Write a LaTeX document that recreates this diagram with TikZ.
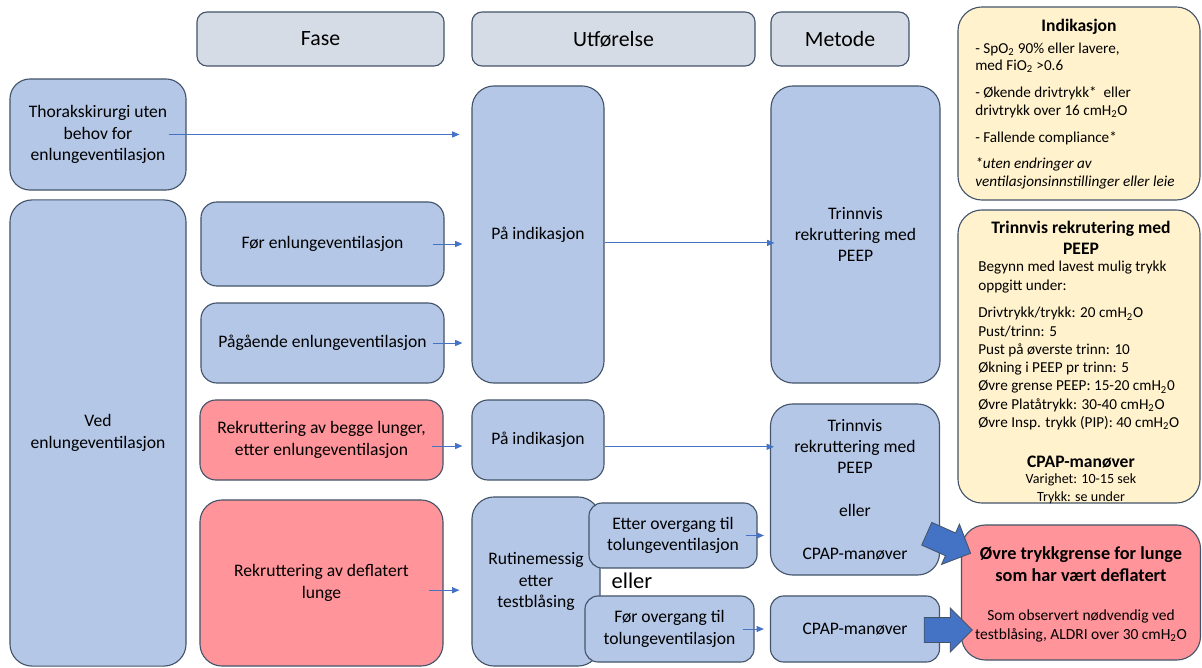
\documentclass[tikz,border=0pt]{standalone}
\usepackage{fontspec}
\setmainfont{Carlito}
\usetikzlibrary{arrows.meta,shapes.arrows}
\definecolor{boxblue}{HTML}{B4C7E7}
\definecolor{boxred}{HTML}{FF949A}
\definecolor{headgray}{HTML}{D6DCE5}
\definecolor{infoyellow}{HTML}{FFF2CC}
\definecolor{edge}{HTML}{44546A}
\definecolor{arrowblue}{HTML}{4472C4}
\begin{document}
\begin{tikzpicture}[x=0.025cm, y=-0.025cm,
    box/.style={draw=edge, line width=0.8pt, rounded corners=0.4cm, align=center, inner sep=2pt,
        font=\fontsize{12.5}{15.2}\selectfont},
    bluebox/.style={box, fill=boxblue},
    redbox/.style={box, fill=boxred},
    head/.style={box, fill=headgray, rounded corners=0.25cm, font=\fontsize{15.5}{18}\selectfont},
    infobox/.style={draw=edge, line width=0.8pt, fill=infoyellow, rounded corners=0.6cm},
    info/.style={anchor=west, inner sep=0pt, font=\fontsize{10.8}{13}\selectfont},
    infohead/.style={inner sep=0pt, align=center, font=\fontsize{12.5}{14.5}\selectfont\bfseries},
    arr/.style={draw=arrowblue, line width=0.6pt, -{Triangle[length=1.8mm,width=1.5mm]}},
    bigarrow/.style={single arrow, draw=edge, fill=arrowblue, line width=0.6pt, inner xsep=0pt,
        inner ysep=0.3cm, minimum height=1.2cm, single arrow head extend=0.24cm}
]
    \useasboundingbox (0,0) rectangle (1202,668);

    % Column headers
    \node[head, minimum width=6.175cm, minimum height=1.35cm] (fase) at (320.5,39) {Fase};
    \node[head, minimum width=7.075cm, minimum height=1.35cm] (utf) at (613.5,39) {Utførelse};
    \node[head, minimum width=3.45cm, minimum height=1.35cm] (metode) at (840,39) {Metode};

    % Left column
    \node[bluebox, rounded corners=0.5cm, minimum width=4.4cm, minimum height=2.775cm] (thorak) at (98,134.5)
        {Thorakskirurgi uten\\behov for\\enlungeventilasjon};
    \node[bluebox, rounded corners=0.55cm, minimum width=4.4cm, minimum height=11.65cm] (ved) at (98,433)
        {Ved\\enlungeventilasjon};

    % Fase
    \node[bluebox, minimum width=6.075cm, minimum height=2.1cm] (forEn) at (322.5,244) {Før enlungeventilasjon};
    \node[bluebox, minimum width=6.075cm, minimum height=2cm] (paag) at (322.5,343) {Pågående enlungeventilasjon};
    \node[redbox, minimum width=6.075cm, minimum height=2cm] (begge) at (321.5,440)
        {Rekruttering av begge lunger,\\etter enlungeventilasjon};
    \node[redbox, rounded corners=0.55cm, minimum width=6.075cm, minimum height=4.15cm] (deflat) at (321.5,583)
        {Rekruttering av deflatert\\lunge};

    % Utfoerelse
    \node[bluebox, rounded corners=0.55cm, minimum width=3.3cm, minimum height=7.425cm] (paInd) at (538,234.5) {På indikasjon};
    \node[bluebox, minimum width=3.3cm, minimum height=2cm] (paIndB) at (538,440) {På indikasjon};
    \node[bluebox, rounded corners=0.55cm, minimum width=3.2cm, minimum height=4.225cm] (rutine) at (536,581.5)
        {Rutinemessig\\etter\\testblåsing};
    \node[bluebox, rounded corners=0.33cm, minimum width=4.2cm, minimum height=1.625cm] (etter) at (673,535.5)
        {Etter overgang til\\tolungeventilasjon};
    \node[bluebox, rounded corners=0.33cm, minimum width=4.225cm, minimum height=1.65cm] (forOv) at (669.5,629)
        {Før overgang til\\tolungeventilasjon};
    \node[inner sep=0pt, font=\fontsize{16}{19}\selectfont] (eller) at (632,581) {eller};

    % Metode
    \node[bluebox, rounded corners=0.55cm, minimum width=4.225cm, minimum height=7.425cm] (trinn) at (855.5,234.5)
        {Trinnvis\\rekruttering med\\PEEP};
    \node[bluebox, rounded corners=0.55cm, minimum width=4.225cm, minimum height=4.275cm] (trinnB) at (855,489.5)
        {Trinnvis\\rekruttering med\\PEEP\\[15.2pt]eller\\[15.2pt]CPAP-manøver};
    \node[bluebox, rounded corners=0.33cm, minimum width=4.225cm, minimum height=1.65cm] (cpap) at (855,629) {CPAP-manøver};

    % Indikasjon panel
    \node[infobox, minimum width=6.05cm, minimum height=4.825cm] (indik) at (1079,103.5) {};
    \node[infohead] (indikT) at (1079,27) {Indikasjon};
    \node[info] (indik1) at (975,49) {- SpO\textsubscript{2} 90\% eller lavere,};
    \node[info] (indik2) at (975,66) {med FiO\textsubscript{2} >0.6};
    \node[info] (indik3) at (975,93) {- Økende drivtrykk*\ \ eller};
    \node[info] (indik4) at (975,111) {drivtrykk over 16 cmH\textsubscript{2}O};
    \node[info] (indik5) at (975,138) {- Fallende compliance*};
    \node[info, font=\fontsize{10.8}{13}\selectfont\itshape] (indik6) at (975,164) {*uten endringer av};
    \node[info, font=\fontsize{10.8}{13}\selectfont\itshape] (indik7) at (975,183) {ventilasjonsinnstillinger eller leie};

    % Trinnvis panel
    \node[infobox, minimum width=6.05cm, minimum height=7.325cm] (trinnInfo) at (1079,356.5) {};
    \node[infohead] (trinnT) at (1081,238) {Trinnvis rekrutering med\\PEEP};
    \node[info] (trinn1) at (978,268) {Begynn med lavest mulig trykk};
    \node[info] (trinn2) at (978,287) {oppgitt under:};
    \node[info, align=left, anchor=north west] (trinn3) at (978,307)
        {Drivtrykk/trykk: 20 cmH\textsubscript{2}O\\
         Pust/trinn: 5\\
         Pust på øverste trinn: 10\\
         Økning i PEEP pr trinn: 5\\
         Øvre grense PEEP: 15-20 cmH\textsubscript{2}0\\
         Øvre Platåtrykk: 30-40 cmH\textsubscript{2}O\\
         Øvre Insp. trykk (PIP): 40 cmH\textsubscript{2}O};
    \node[infohead] (cpapT) at (1081,462) {CPAP-manøver};
    \node[inner sep=0pt, align=center, font=\fontsize{10}{12.5}\selectfont] (cpapTxt) at (1081,489)
        {Varighet: 10-15 sek\\Trykk: se under};

    % Upper pressure limit
    \node[redbox, rounded corners=0.6cm, minimum width=5.975cm, minimum height=3.375cm] (ovre) at (1081,592.5) {};
    \node[infohead, font=\fontsize{13}{15.5}\selectfont\bfseries] (ovreT) at (1081,564)
        {Øvre trykkgrense for lunge\\som har vært deflatert};
    \node[inner sep=0pt, align=center, font=\fontsize{11}{13.5}\selectfont] (ovreTxt) at (1081,626)
        {Som observert nødvendig ved\\testblåsing, ALDRI over 30 cmH\textsubscript{2}O};

    % Thin connectors
    \draw[arr] ([xshift=-0.45cm]thorak.east) -- ([xshift=-0.3cm]thorak.east -| paInd.west);
    \draw[arr] ([xshift=-0.3cm]forEn.east) -- ([xshift=-0.225cm]forEn.east -| paInd.west);
    \draw[arr] ([xshift=-0.3cm]paag.east) -- ([xshift=-0.225cm]paag.east -| paInd.west);
    \draw[arr] ([xshift=-0.3cm,yshift=-0.15cm]begge.east) -- ([xshift=-0.225cm,yshift=-0.15cm]begge.east -| paIndB.west);
    \draw[arr] ([xshift=-0.375cm,yshift=-0.18cm]deflat.east) -- ([xshift=-0.3cm,yshift=-0.18cm]deflat.east -| rutine.west);
    \draw[arr] ([yshift=-0.21cm]paInd.east) -- ([xshift=0.1cm,yshift=-0.21cm]paInd.east -| trinn.west);
    \draw[arr] ([yshift=-0.17cm]paIndB.east) -- ([xshift=0.1cm,yshift=-0.17cm]paIndB.east -| trinnB.west);
    \draw[arr] ([xshift=-0.3cm]etter.east) -- ([xshift=-0.15cm]etter.east -| trinnB.west);
    \draw[arr] ([xshift=-0.3cm]forOv.east) -- ([xshift=-0.15cm]forOv.east -| cpap.west);

    % Block arrows into the red box
    \node[bigarrow, rotate=-24] (bigA) at (943,541) {};
    \node[bigarrow] (bigB) at (942,630) {};

\end{tikzpicture}
\end{document}
